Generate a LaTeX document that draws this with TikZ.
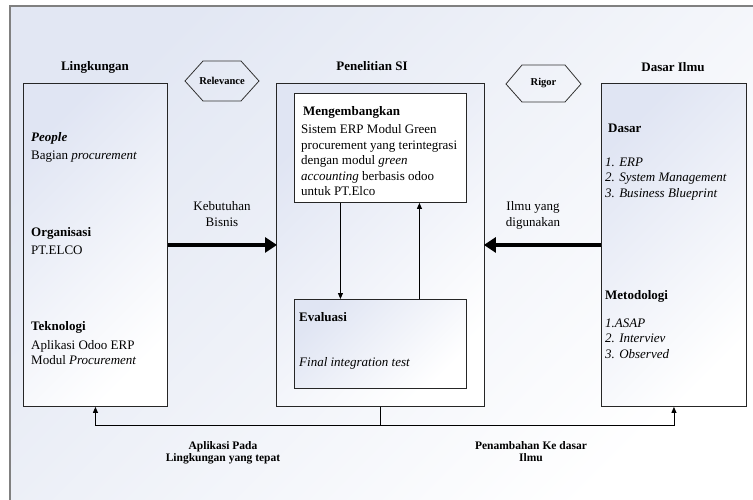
\documentclass[tikz,border=0pt]{standalone}
\usepackage{fontspec}
\setmainfont{Liberation Serif}
\usetikzlibrary{arrows.meta}
\definecolor{bgc}{RGB}{226,231,243}
\definecolor{boxc}{RGB}{224,229,243}
\newcommand\fmain{\fontsize{13pt}{15.6pt}\selectfont}
\newcommand\fsmall{\fontsize{11.5pt}{12.6pt}\selectfont}
\newcommand\fhex{\fontsize{10.5pt}{12pt}\selectfont}
\begin{document}
\begin{tikzpicture}[x=1pt,y=-1pt,
  outerframe/.style={draw=black!50, line width=1.5pt, left color=bgc, right color=white, shading angle=45},
  gbox/.style={draw=black!85, line width=0.9pt, left color=boxc, right color=white, shading angle=45, inner sep=0pt, anchor=north west},
  wbox/.style={draw=black!85, line width=0.9pt, fill=white, inner sep=0pt, anchor=north west},
  hexa/.style={draw=black!80, line width=0.8pt},
  txt/.style={inner sep=0pt, anchor=base west, font=\fmain},
  para/.style={inner sep=0pt, anchor=north west, align=left, font=\fmain},
  head/.style={inner sep=0pt, anchor=base, font=\fmain\bfseries},
  cpara/.style={inner sep=0pt, anchor=north, align=center, font=\fmain},
  bpara/.style={inner sep=0pt, anchor=north, align=center, font=\fsmall\bfseries},
  bigarrow/.style={line width=4.5pt, -{Triangle[length=12pt,width=15pt]}, shorten >=-1pt},
  arr/.style={line width=0.9pt, -{Triangle[length=6pt,width=5pt]}},
  plain/.style={line width=0.9pt}
]
\useasboundingbox (0,0) rectangle (753,499);
\clip (0,0) rectangle (753,499);
\draw[outerframe] (10,6) rectangle (760,510);

% headers
\node[head] (hling) at (95,70.5) {Lingkungan};
\node[head] (hpen) at (372,70.5) {Penelitian SI};
\node[head] (hdas) at (673,71) {Dasar Ilmu};

% hexagons
\draw[hexa] (185,81) -- (203,61) -- (241,61) -- (259,81) -- (241,101) -- (203,101) -- cycle;
\node[inner sep=0pt, font=\fhex\bfseries] (rel) at (222,81) {Relevance};
\draw[hexa] (506,84) -- (522,65) -- (565,65) -- (581,84) -- (565,102) -- (522,102) -- cycle;
\node[inner sep=0pt, font=\fhex\bfseries] (rig) at (543.5,83.5) {Rigor};

% boxes
\node[gbox, minimum width=144pt, minimum height=323pt] (ling) at (23,83) {};
\node[gbox, minimum width=208pt, minimum height=323pt] (mid) at (276,83) {};
\node[wbox, minimum width=172pt, minimum height=109pt] (meng) at (294,93) {};
\node[gbox, minimum width=172pt, minimum height=89pt] (eval) at (294,299) {};
\node[gbox, minimum width=145pt, minimum height=323pt] (rbox) at (601,83) {};

% left box texts
\node[txt] (tpeople) at (31,141.5) {\textbf{\textit{People}}};
\node[txt] (tbagian) at (31,159.5) {Bagian \textit{procurement}};
\node[txt] (torg) at (31,236.5) {\textbf{Organisasi}};
\node[txt] (telco) at (31,254.5) {PT.ELCO};
\node[txt] (ttek) at (31,330.5) {\textbf{Teknologi}};
\node[para] (tapl) at (31,340) {Aplikasi Odoo ERP\\Modul \textit{Procurement}};

% middle texts
\node[txt] (tmeng) at (303,115.5) {\textbf{Mengembangkan}};
\node[para] (tsis) at (301,124.3) {Sistem ERP Modul Green\\procurement yang terintegrasi\\dengan modul \textit{green}\\\textit{accounting} berbasis odoo\\untuk PT.Elco};
\node[txt] (teval) at (299,321.5) {\textbf{Evaluasi}};
\node[txt] (tfin) at (299,366.5) {\textit{Final integration test}};

% right texts
\node[txt] (tdasar) at (608,132.5) {\textbf{Dasar}};
\node[para] (tlist1) at (605,157.3) {\textit{1. ERP}\\\textit{2. System Management}\\\textit{3. Business Blueprint}};
\node[txt] (tmet) at (605,299.5) {\textbf{Metodologi}};
\node[para] (tlist2) at (605,318.3) {\textit{1.ASAP}\\\textit{2. Interviev}\\\textit{3. Observed}};

% arrow labels
\node[cpara] (tkeb) at (222,201.5) {Kebutuhan\\Bisnis};
\node[cpara] (tilmu) at (533,201.5) {Ilmu yang\\digunakan};

% thick arrows
\draw[bigarrow] (ling) -- (mid);
\draw[bigarrow] (rbox) -- (mid);

% inner arrows
\draw[arr] ([xshift=-40pt]meng.south) -- ([xshift=-40pt]eval.north);
\draw[arr] ([xshift=39pt]eval.north) -- ([xshift=39pt]meng.south);

% feedback
\draw[plain] (mid.south) -- ++(0,19) coordinate (fb);
\draw[arr] (fb) -| (ling.south);
\draw[arr] (fb) -| (rbox.south);

\node[bpara] (tapl2) at (223,441) {Aplikasi Pada\\Lingkungan yang tepat};
\node[bpara] (tpen) at (531,441) {Penambahan Ke dasar\\Ilmu};
\end{tikzpicture}
\end{document}
